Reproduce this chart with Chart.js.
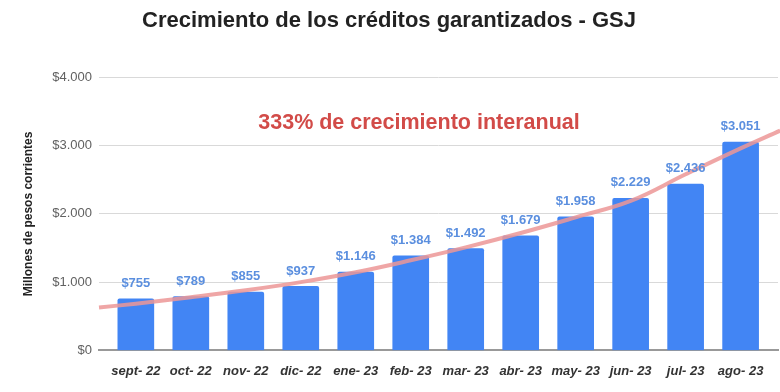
<!DOCTYPE html>
<html>
<head>
<meta charset="utf-8">
<script src="https://cdn.jsdelivr.net/npm/chart.js@4/dist/chart.umd.min.js"></script>
<style>
    html, body { margin: 0; padding: 0; background: #fff; }
    #wrap { width: 780px; height: 392px; }
</style>
</head>
<body>
<div id="wrap"><canvas id="chart"></canvas></div>
<script>
// Data
const months = ['sept- 22', 'oct- 22', 'nov- 22', 'dic- 22', 'ene- 23', 'feb- 23', 'mar- 23', 'abr- 23', 'may- 23', 'jun- 23', 'jul- 23', 'ago- 23'];
const credits = [755, 789, 855, 937, 1146, 1384, 1492, 1679, 1958, 2229, 2436, 3051];
// trend curve (x = month index)
const trendPos = [-0.67, 0, 1, 2, 3, 4, 5, 6, 7, 8, 9, 10, 11, 11.72];
const trendVals = [628, 685, 778, 880, 1000, 1145, 1320, 1510, 1720, 1950, 2190, 2580, 2960, 3220];
const yTicks = [0, 1000, 2000, 3000, 4000];
const note = '333% de crecimiento interanual';

const fontFam = '"Liberation Sans", Arial, sans-serif';
const fmt = v => '$' + v.toString().replace(/\B(?=(\d{3})+(?!\d))/g, '.');

const barData = credits.map((v, i) => ({x: i, y: v}));
const trendData = trendPos.map((p, i) => ({x: p, y: trendVals[i]}));

// draws value labels above bars and the red note
const labelPlugin = {
    id: 'labels',
    afterDatasetsDraw(chart) {
        let ctx = chart.ctx;
        let meta = chart.getDatasetMeta(1);
        ctx.save();
        ctx.font = 'bold 13px ' + fontFam;
        ctx.fillStyle = '#5b8fdf';
        ctx.textAlign = 'center';
        ctx.textBaseline = 'bottom';
        meta.data.forEach((bar, i) => {
            ctx.fillText(fmt(credits[i]), bar.x, bar.y - 9);
        });
        let xs = chart.scales.x, ys = chart.scales.y;
        ctx.font = 'bold 21.5px ' + fontFam;
        ctx.fillStyle = '#d24b48';
        ctx.textBaseline = 'middle';
        ctx.fillText(note, xs.getPixelForValue(5.15), ys.getPixelForValue(3326));
        ctx.restore();
    }
};

new Chart(document.getElementById('chart'), {
    type: 'bar',
    data: {
        datasets: [{
            type: 'line',
            data: trendData,
            borderColor: 'rgba(236,150,150,0.85)',
            borderWidth: 4,
            pointRadius: 0,
            tension: 0.4,
            clip: false,
            order: 0
        }, {
            type: 'bar',
            data: barData,
            backgroundColor: '#4285f4',
            barThickness: 36,
            borderRadius: 2,
            borderSkipped: 'bottom',
            order: 1
        }]
    },
    options: {
        responsive: true,
        maintainAspectRatio: false,
        animation: false,
        layout: { padding: { left: 0, right: 2, top: 0, bottom: 0 } },
        plugins: {
            legend: { display: false },
            tooltip: { enabled: false },
            title: {
                display: true,
                text: 'Crecimiento de los créditos garantizados - GSJ',
                color: '#222',
                font: { family: fontFam, size: 22, weight: 'bold' },
                padding: { top: 8, bottom: 43 }
            }
        },
        scales: {
            x: {
                type: 'linear',
                offset: false,
                min: -0.67,
                max: 11.68,
                afterBuildTicks: s => { s.ticks = months.map((m, i) => ({value: i})); },
                grid: { display: false, drawTicks: false },
                border: { display: true, color: '#999', width: 2 },
                ticks: {
                    autoSkip: false,
                    maxRotation: 0,
                    padding: 13,
                    color: '#333',
                    font: { family: fontFam, size: 13, weight: 'bold', style: 'italic' },
                    callback: v => months[v]
                }
            },
            y: {
                min: 0,
                max: 4000,
                afterBuildTicks: s => { s.ticks = yTicks.map(v => ({value: v})); },
                afterFit: s => { s.width = 99; },
                grid: { color: '#d9d9d9', drawTicks: false },
                border: { display: false },
                ticks: {
                    padding: 7,
                    color: '#616161',
                    font: { family: fontFam, size: 13 },
                    callback: v => fmt(v)
                },
                title: {
                    display: true,
                    text: 'Millones de pesos corrientes',
                    color: '#222',
                    font: { family: fontFam, size: 12, weight: 'bold' },
                    padding: { top: 21, bottom: 0 }
                }
            }
        }
    },
    plugins: [labelPlugin]
});
</script>
</body>
</html>
